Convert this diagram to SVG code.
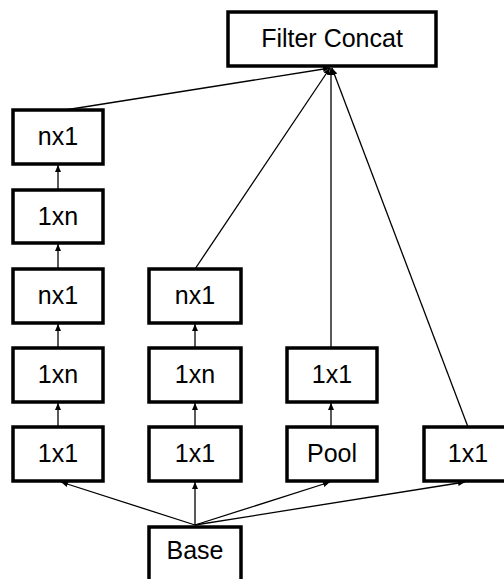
<svg xmlns="http://www.w3.org/2000/svg" width="504" height="579" viewBox="0 0 504 579">
<style>
.box{fill:#fff;stroke:#000;stroke-width:3.5}
.t{font-family:"Liberation Sans",Arial,sans-serif;font-size:25px;fill:#000;text-anchor:middle}
.c{stroke:#000;stroke-width:1.3;fill:none;marker-end:url(#ah)}
</style>
<defs>
<marker id="ah" markerUnits="userSpaceOnUse" markerWidth="8" markerHeight="8" refX="7" refY="3" orient="auto">
<path d="M0,0 L7,3 L0,6 Z" fill="#000"/>
</marker>
</defs>
<g id="connectors">
<line class="c" x1="65" y1="110" x2="330" y2="68"/>
<line class="c" x1="195" y1="269" x2="330" y2="68"/>
<line class="c" x1="331" y1="348" x2="331" y2="68"/>
<line class="c" x1="468" y1="427" x2="332" y2="68"/>
<line class="c" x1="58" y1="427" x2="58" y2="403"/>
<line class="c" x1="58" y1="348" x2="58" y2="324"/>
<line class="c" x1="58" y1="269" x2="58" y2="244"/>
<line class="c" x1="58" y1="190" x2="58" y2="165"/>
<line class="c" x1="195" y1="427" x2="195" y2="403"/>
<line class="c" x1="195" y1="348" x2="195" y2="324"/>
<line class="c" x1="331" y1="427" x2="331" y2="403"/>
<line class="c" x1="195" y1="525" x2="61" y2="482"/>
<line class="c" x1="195" y1="525" x2="195" y2="482"/>
<line class="c" x1="195" y1="525" x2="330" y2="482"/>
<line class="c" x1="195" y1="525" x2="465" y2="482"/>
</g>
<g id="concat"><rect class="box" x="228" y="12" width="208" height="54"/><text class="t" x="332" y="47">Filter Concat</text></g>
<g id="a4"><rect class="box" x="13" y="110" width="90" height="54"/><text class="t" x="58" y="145">nx1</text></g>
<g id="a3"><rect class="box" x="13" y="190" width="90" height="53"/><text class="t" x="58" y="225">1xn</text></g>
<g id="a2"><rect class="box" x="13" y="269" width="90" height="54"/><text class="t" x="58" y="304">nx1</text></g>
<g id="a1"><rect class="box" x="13" y="348" width="90" height="54"/><text class="t" x="58" y="383">1xn</text></g>
<g id="a0"><rect class="box" x="13" y="427" width="90" height="54"/><text class="t" x="58" y="462">1x1</text></g>
<g id="b2"><rect class="box" x="149" y="269" width="92" height="54"/><text class="t" x="195" y="304">nx1</text></g>
<g id="b1"><rect class="box" x="149" y="348" width="92" height="54"/><text class="t" x="195" y="383">1xn</text></g>
<g id="b0"><rect class="box" x="149" y="427" width="92" height="54"/><text class="t" x="195" y="462">1x1</text></g>
<g id="c1"><rect class="box" x="287" y="348" width="90" height="54"/><text class="t" x="332" y="383">1x1</text></g>
<g id="c0"><rect class="box" x="287" y="427" width="90" height="54"/><text class="t" x="332" y="462">Pool</text></g>
<g id="d0"><rect class="box" x="424" y="427" width="90" height="54"/><text class="t" x="468" y="462">1x1</text></g>
<g id="base"><rect class="box" x="149" y="527" width="92" height="60"/><text class="t" x="195" y="559">Base</text></g>
</svg>
